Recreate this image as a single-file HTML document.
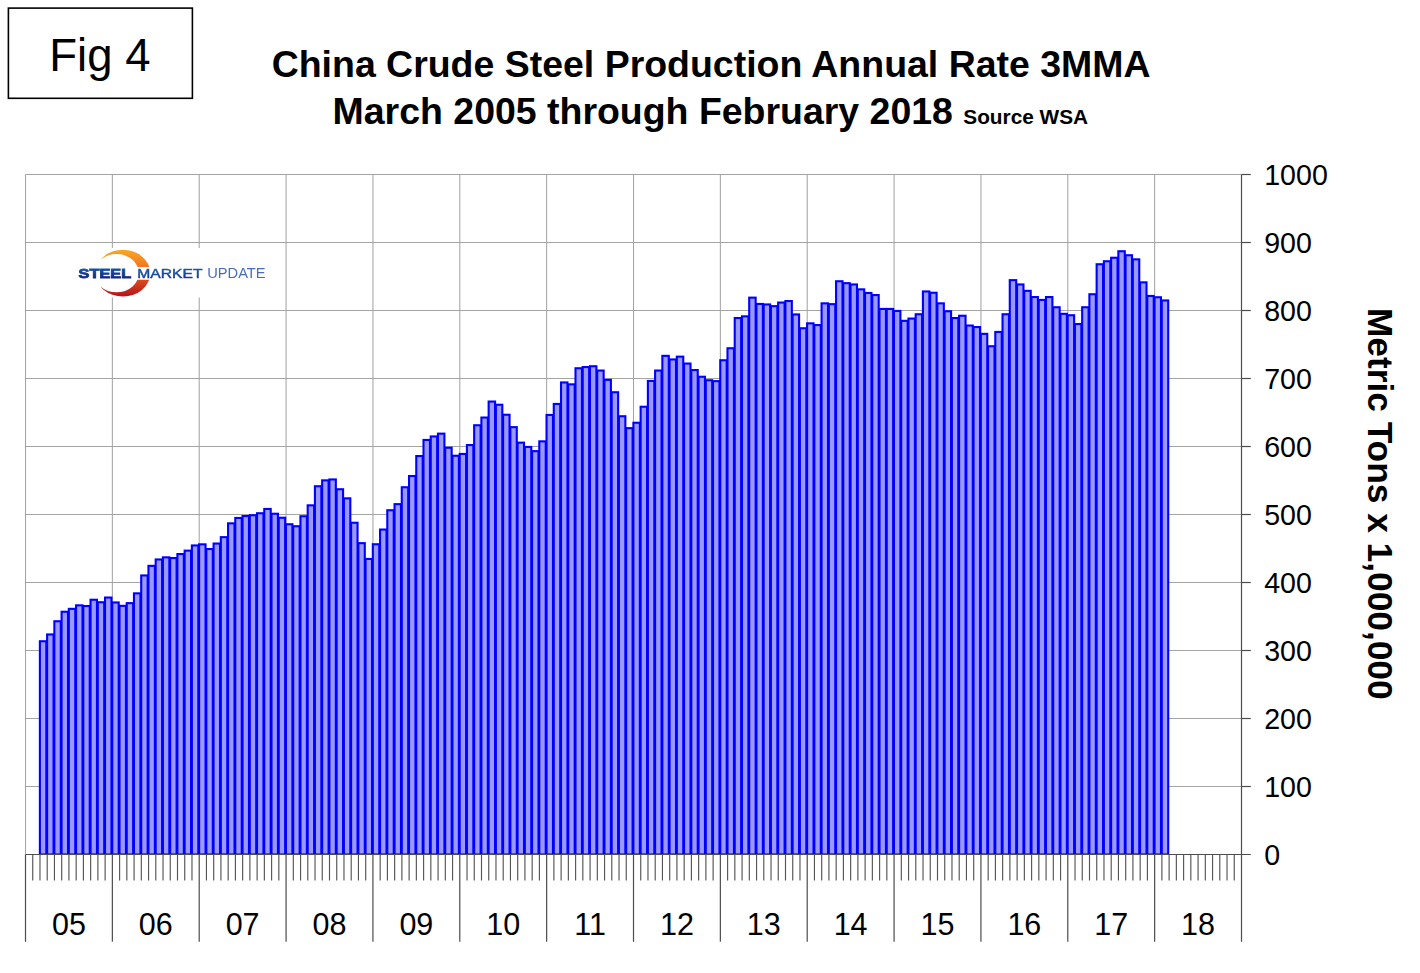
<!DOCTYPE html>
<html><head><meta charset="utf-8"><title>Fig 4</title>
<style>
html,body{margin:0;padding:0;background:#fff;}
body{width:1420px;height:973px;overflow:hidden;position:relative;font-family:"Liberation Sans",sans-serif;}
svg{position:absolute;left:0;top:0;display:block;}
text{font-family:"Liberation Sans",sans-serif;fill:#000;}
</style></head><body>
<svg width="1420" height="973" viewBox="0 0 1420 973">
<defs>
<linearGradient id="cg" x1="0" y1="0" x2="0" y2="1"><stop offset="0" stop-color="#f9a825"/><stop offset="0.45" stop-color="#ef6a22"/><stop offset="1" stop-color="#b5121b"/></linearGradient>
</defs>
<rect x="0" y="0" width="1420" height="973" fill="#ffffff"/>
<g stroke="#a4a4a4" stroke-width="1.05" fill="none">
<line x1="25.50" y1="786.50" x2="1241.50" y2="786.50"/>
<line x1="25.50" y1="718.50" x2="1241.50" y2="718.50"/>
<line x1="25.50" y1="650.50" x2="1241.50" y2="650.50"/>
<line x1="25.50" y1="582.50" x2="1241.50" y2="582.50"/>
<line x1="25.50" y1="514.50" x2="1241.50" y2="514.50"/>
<line x1="25.50" y1="446.50" x2="1241.50" y2="446.50"/>
<line x1="25.50" y1="378.50" x2="1241.50" y2="378.50"/>
<line x1="25.50" y1="310.50" x2="1241.50" y2="310.50"/>
<line x1="25.50" y1="242.50" x2="1241.50" y2="242.50"/>
<line x1="25.50" y1="174.50" x2="1241.50" y2="174.50"/>
<line x1="25.50" y1="174.50" x2="25.50" y2="854.50"/>
<line x1="112.36" y1="174.50" x2="112.36" y2="854.50"/>
<line x1="199.21" y1="174.50" x2="199.21" y2="854.50"/>
<line x1="286.07" y1="174.50" x2="286.07" y2="854.50"/>
<line x1="372.93" y1="174.50" x2="372.93" y2="854.50"/>
<line x1="459.79" y1="174.50" x2="459.79" y2="854.50"/>
<line x1="546.64" y1="174.50" x2="546.64" y2="854.50"/>
<line x1="633.50" y1="174.50" x2="633.50" y2="854.50"/>
<line x1="720.36" y1="174.50" x2="720.36" y2="854.50"/>
<line x1="807.21" y1="174.50" x2="807.21" y2="854.50"/>
<line x1="894.07" y1="174.50" x2="894.07" y2="854.50"/>
<line x1="980.93" y1="174.50" x2="980.93" y2="854.50"/>
<line x1="1067.79" y1="174.50" x2="1067.79" y2="854.50"/>
<line x1="1154.64" y1="174.50" x2="1154.64" y2="854.50"/>
</g>
<rect x="70" y="248" width="212" height="49.4" fill="#ffffff"/>
<defs><clipPath id="lc"><rect x="100" y="248" width="53" height="19"/><rect x="100" y="279.7" width="53" height="19"/></clipPath>
<linearGradient id="tg" x1="0" y1="0" x2="0" y2="1"><stop offset="0" stop-color="#0b62b5"/><stop offset="0.55" stop-color="#173a8e"/><stop offset="1" stop-color="#1a1f78"/></linearGradient>
<linearGradient id="tg2" x1="0" y1="0" x2="0" y2="1"><stop offset="0" stop-color="#1565b5"/><stop offset="1" stop-color="#1b2f85"/></linearGradient>
<filter id="lb" x="-10%" y="-10%" width="120%" height="120%"><feGaussianBlur stdDeviation="0.35"/></filter></defs>
<g filter="url(#lb)">
<g clip-path="url(#lc)"><path fill="url(#cg)" fill-rule="evenodd" d="M95.5,273.15 a27.4,23.35 0 1,0 54.8,0 a27.4,23.35 0 1,0 -54.8,0 Z M94.2,273.15 a22.3,19.2 0 1,0 44.6,0 a22.3,19.2 0 1,0 -44.6,0 Z"/></g>
<rect x="70" y="248" width="31" height="49.4" fill="#ffffff"/>
<text x="78.6" y="277.7" font-size="13.1" font-weight="bold" textLength="52.6" lengthAdjust="spacingAndGlyphs" style="fill:url(#tg);stroke:url(#tg);stroke-width:0.8">STEEL</text>
<text x="137.3" y="277.8" font-size="13.3" textLength="65.2" lengthAdjust="spacingAndGlyphs" style="fill:url(#tg2);stroke:url(#tg2);stroke-width:0.45">MARKET</text>
<text x="207.2" y="278.1" font-size="14.0" textLength="58.4" lengthAdjust="spacingAndGlyphs" style="fill:#4a6db8">UPDATE</text>
</g>
<clipPath id="bc"><rect x="0" y="0" width="1420" height="854.3"/></clipPath>
<g clip-path="url(#bc)" fill="#9999ff" stroke="#0000ff" stroke-width="2.1" stroke-linejoin="miter">
<rect x="39.88" y="641.25" width="6.44" height="213.25"/>
<rect x="47.11" y="634.45" width="6.44" height="220.05"/>
<rect x="54.35" y="621.25" width="6.44" height="233.25"/>
<rect x="61.59" y="611.75" width="6.44" height="242.75"/>
<rect x="68.83" y="608.85" width="6.44" height="245.65"/>
<rect x="76.07" y="605.35" width="6.44" height="249.15"/>
<rect x="83.30" y="606.05" width="6.44" height="248.45"/>
<rect x="90.54" y="599.75" width="6.44" height="254.75"/>
<rect x="97.78" y="602.25" width="6.44" height="252.25"/>
<rect x="105.02" y="597.55" width="6.44" height="256.95"/>
<rect x="112.26" y="602.45" width="6.44" height="252.05"/>
<rect x="119.50" y="605.85" width="6.44" height="248.65"/>
<rect x="126.73" y="603.15" width="6.44" height="251.35"/>
<rect x="133.97" y="593.35" width="6.44" height="261.15"/>
<rect x="141.21" y="575.45" width="6.44" height="279.05"/>
<rect x="148.45" y="565.85" width="6.44" height="288.65"/>
<rect x="155.69" y="559.45" width="6.44" height="295.05"/>
<rect x="162.92" y="557.35" width="6.44" height="297.15"/>
<rect x="170.16" y="558.05" width="6.44" height="296.45"/>
<rect x="177.40" y="554.05" width="6.44" height="300.45"/>
<rect x="184.64" y="550.65" width="6.44" height="303.85"/>
<rect x="191.88" y="545.45" width="6.44" height="309.05"/>
<rect x="199.11" y="544.35" width="6.44" height="310.15"/>
<rect x="206.35" y="549.05" width="6.44" height="305.45"/>
<rect x="213.59" y="543.55" width="6.44" height="310.95"/>
<rect x="220.83" y="537.15" width="6.44" height="317.35"/>
<rect x="228.07" y="523.35" width="6.44" height="331.15"/>
<rect x="235.30" y="517.95" width="6.44" height="336.55"/>
<rect x="242.54" y="516.05" width="6.44" height="338.45"/>
<rect x="249.78" y="515.25" width="6.44" height="339.25"/>
<rect x="257.02" y="513.25" width="6.44" height="341.25"/>
<rect x="264.26" y="508.95" width="6.44" height="345.55"/>
<rect x="271.50" y="513.75" width="6.44" height="340.75"/>
<rect x="278.73" y="517.75" width="6.44" height="336.75"/>
<rect x="285.97" y="524.25" width="6.44" height="330.25"/>
<rect x="293.21" y="526.25" width="6.44" height="328.25"/>
<rect x="300.45" y="516.25" width="6.44" height="338.25"/>
<rect x="307.69" y="505.35" width="6.44" height="349.15"/>
<rect x="314.92" y="486.25" width="6.44" height="368.25"/>
<rect x="322.16" y="480.35" width="6.44" height="374.15"/>
<rect x="329.40" y="479.45" width="6.44" height="375.05"/>
<rect x="336.64" y="489.25" width="6.44" height="365.25"/>
<rect x="343.88" y="498.35" width="6.44" height="356.15"/>
<rect x="351.11" y="522.75" width="6.44" height="331.75"/>
<rect x="358.35" y="543.15" width="6.44" height="311.35"/>
<rect x="365.59" y="558.95" width="6.44" height="295.55"/>
<rect x="372.83" y="544.25" width="6.44" height="310.25"/>
<rect x="380.07" y="529.55" width="6.44" height="324.95"/>
<rect x="387.30" y="510.25" width="6.44" height="344.25"/>
<rect x="394.54" y="504.15" width="6.44" height="350.35"/>
<rect x="401.78" y="487.25" width="6.44" height="367.25"/>
<rect x="409.02" y="476.05" width="6.44" height="378.45"/>
<rect x="416.26" y="456.05" width="6.44" height="398.45"/>
<rect x="423.50" y="439.95" width="6.44" height="414.55"/>
<rect x="430.73" y="436.45" width="6.44" height="418.05"/>
<rect x="437.97" y="433.65" width="6.44" height="420.85"/>
<rect x="445.21" y="447.75" width="6.44" height="406.75"/>
<rect x="452.45" y="455.75" width="6.44" height="398.75"/>
<rect x="459.69" y="453.95" width="6.44" height="400.55"/>
<rect x="466.92" y="445.05" width="6.44" height="409.45"/>
<rect x="474.16" y="425.25" width="6.44" height="429.25"/>
<rect x="481.40" y="417.55" width="6.44" height="436.95"/>
<rect x="488.64" y="401.55" width="6.44" height="452.95"/>
<rect x="495.88" y="404.75" width="6.44" height="449.75"/>
<rect x="503.11" y="414.75" width="6.44" height="439.75"/>
<rect x="510.35" y="427.15" width="6.44" height="427.35"/>
<rect x="517.59" y="442.65" width="6.44" height="411.85"/>
<rect x="524.83" y="446.95" width="6.44" height="407.55"/>
<rect x="532.07" y="451.15" width="6.44" height="403.35"/>
<rect x="539.30" y="441.35" width="6.44" height="413.15"/>
<rect x="546.54" y="414.95" width="6.44" height="439.55"/>
<rect x="553.78" y="403.95" width="6.44" height="450.55"/>
<rect x="561.02" y="382.45" width="6.44" height="472.05"/>
<rect x="568.26" y="384.35" width="6.44" height="470.15"/>
<rect x="575.50" y="368.25" width="6.44" height="486.25"/>
<rect x="582.73" y="367.05" width="6.44" height="487.45"/>
<rect x="589.97" y="366.25" width="6.44" height="488.25"/>
<rect x="597.21" y="370.55" width="6.44" height="483.95"/>
<rect x="604.45" y="379.85" width="6.44" height="474.65"/>
<rect x="611.69" y="392.25" width="6.44" height="462.25"/>
<rect x="618.92" y="416.25" width="6.44" height="438.25"/>
<rect x="626.16" y="428.15" width="6.44" height="426.35"/>
<rect x="633.40" y="422.75" width="6.44" height="431.75"/>
<rect x="640.64" y="406.75" width="6.44" height="447.75"/>
<rect x="647.88" y="380.95" width="6.44" height="473.55"/>
<rect x="655.11" y="370.55" width="6.44" height="483.95"/>
<rect x="662.35" y="355.85" width="6.44" height="498.65"/>
<rect x="669.59" y="359.45" width="6.44" height="495.05"/>
<rect x="676.83" y="356.65" width="6.44" height="497.85"/>
<rect x="684.07" y="363.55" width="6.44" height="490.95"/>
<rect x="691.30" y="370.05" width="6.44" height="484.45"/>
<rect x="698.54" y="376.75" width="6.44" height="477.75"/>
<rect x="705.78" y="380.25" width="6.44" height="474.25"/>
<rect x="713.02" y="381.15" width="6.44" height="473.35"/>
<rect x="720.26" y="360.25" width="6.44" height="494.25"/>
<rect x="727.50" y="348.25" width="6.44" height="506.25"/>
<rect x="734.73" y="318.05" width="6.44" height="536.45"/>
<rect x="741.97" y="316.35" width="6.44" height="538.15"/>
<rect x="749.21" y="297.65" width="6.44" height="556.85"/>
<rect x="756.45" y="303.95" width="6.44" height="550.55"/>
<rect x="763.69" y="304.45" width="6.44" height="550.05"/>
<rect x="770.92" y="306.15" width="6.44" height="548.35"/>
<rect x="778.16" y="302.55" width="6.44" height="551.95"/>
<rect x="785.40" y="301.05" width="6.44" height="553.45"/>
<rect x="792.64" y="314.45" width="6.44" height="540.05"/>
<rect x="799.88" y="328.25" width="6.44" height="526.25"/>
<rect x="807.11" y="323.35" width="6.44" height="531.15"/>
<rect x="814.35" y="325.05" width="6.44" height="529.45"/>
<rect x="821.59" y="303.35" width="6.44" height="551.15"/>
<rect x="828.83" y="304.15" width="6.44" height="550.35"/>
<rect x="836.07" y="281.25" width="6.44" height="573.25"/>
<rect x="843.30" y="283.15" width="6.44" height="571.35"/>
<rect x="850.54" y="284.45" width="6.44" height="570.05"/>
<rect x="857.78" y="289.35" width="6.44" height="565.15"/>
<rect x="865.02" y="292.95" width="6.44" height="561.55"/>
<rect x="872.26" y="295.05" width="6.44" height="559.45"/>
<rect x="879.50" y="308.95" width="6.44" height="545.55"/>
<rect x="886.73" y="308.95" width="6.44" height="545.55"/>
<rect x="893.97" y="310.95" width="6.44" height="543.55"/>
<rect x="901.21" y="320.85" width="6.44" height="533.65"/>
<rect x="908.45" y="318.55" width="6.44" height="535.95"/>
<rect x="915.69" y="314.25" width="6.44" height="540.25"/>
<rect x="922.92" y="291.45" width="6.44" height="563.05"/>
<rect x="930.16" y="292.75" width="6.44" height="561.75"/>
<rect x="937.40" y="303.35" width="6.44" height="551.15"/>
<rect x="944.64" y="311.25" width="6.44" height="543.25"/>
<rect x="951.88" y="318.05" width="6.44" height="536.45"/>
<rect x="959.11" y="315.75" width="6.44" height="538.75"/>
<rect x="966.35" y="325.55" width="6.44" height="528.95"/>
<rect x="973.59" y="327.05" width="6.44" height="527.45"/>
<rect x="980.83" y="333.85" width="6.44" height="520.65"/>
<rect x="988.07" y="346.25" width="6.44" height="508.25"/>
<rect x="995.30" y="331.95" width="6.44" height="522.55"/>
<rect x="1002.54" y="314.25" width="6.44" height="540.25"/>
<rect x="1009.78" y="280.15" width="6.44" height="574.35"/>
<rect x="1017.02" y="284.45" width="6.44" height="570.05"/>
<rect x="1024.26" y="290.85" width="6.44" height="563.65"/>
<rect x="1031.50" y="297.05" width="6.44" height="557.45"/>
<rect x="1038.73" y="299.95" width="6.44" height="554.55"/>
<rect x="1045.97" y="297.05" width="6.44" height="557.45"/>
<rect x="1053.21" y="307.25" width="6.44" height="547.25"/>
<rect x="1060.45" y="313.85" width="6.44" height="540.65"/>
<rect x="1067.69" y="315.25" width="6.44" height="539.25"/>
<rect x="1074.92" y="324.05" width="6.44" height="530.45"/>
<rect x="1082.16" y="307.25" width="6.44" height="547.25"/>
<rect x="1089.40" y="294.25" width="6.44" height="560.25"/>
<rect x="1096.64" y="264.25" width="6.44" height="590.25"/>
<rect x="1103.88" y="261.25" width="6.44" height="593.25"/>
<rect x="1111.11" y="257.75" width="6.44" height="596.75"/>
<rect x="1118.35" y="251.25" width="6.44" height="603.25"/>
<rect x="1125.59" y="255.25" width="6.44" height="599.25"/>
<rect x="1132.83" y="259.35" width="6.44" height="595.15"/>
<rect x="1140.07" y="282.35" width="6.44" height="572.15"/>
<rect x="1147.30" y="295.95" width="6.44" height="558.55"/>
<rect x="1154.54" y="297.25" width="6.44" height="557.25"/>
<rect x="1161.78" y="300.45" width="6.44" height="554.05"/>
</g>
<g stroke="#4d4d4d" stroke-width="1.2" fill="none">
<line x1="25.50" y1="854.50" x2="1250.80" y2="854.50"/>
<line x1="1241.50" y1="174.50" x2="1241.50" y2="941.80"/>
<line x1="1241.50" y1="786.50" x2="1250.80" y2="786.50"/>
<line x1="1241.50" y1="718.50" x2="1250.80" y2="718.50"/>
<line x1="1241.50" y1="650.50" x2="1250.80" y2="650.50"/>
<line x1="1241.50" y1="582.50" x2="1250.80" y2="582.50"/>
<line x1="1241.50" y1="514.50" x2="1250.80" y2="514.50"/>
<line x1="1241.50" y1="446.50" x2="1250.80" y2="446.50"/>
<line x1="1241.50" y1="378.50" x2="1250.80" y2="378.50"/>
<line x1="1241.50" y1="310.50" x2="1250.80" y2="310.50"/>
<line x1="1241.50" y1="242.50" x2="1250.80" y2="242.50"/>
<line x1="1241.50" y1="174.50" x2="1250.80" y2="174.50"/>
<line x1="25.50" y1="854.50" x2="25.50" y2="941.80"/>
<line x1="112.36" y1="854.50" x2="112.36" y2="941.80"/>
<line x1="199.21" y1="854.50" x2="199.21" y2="941.80"/>
<line x1="286.07" y1="854.50" x2="286.07" y2="941.80"/>
<line x1="372.93" y1="854.50" x2="372.93" y2="941.80"/>
<line x1="459.79" y1="854.50" x2="459.79" y2="941.80"/>
<line x1="546.64" y1="854.50" x2="546.64" y2="941.80"/>
<line x1="633.50" y1="854.50" x2="633.50" y2="941.80"/>
<line x1="720.36" y1="854.50" x2="720.36" y2="941.80"/>
<line x1="807.21" y1="854.50" x2="807.21" y2="941.80"/>
<line x1="894.07" y1="854.50" x2="894.07" y2="941.80"/>
<line x1="980.93" y1="854.50" x2="980.93" y2="941.80"/>
<line x1="1067.79" y1="854.50" x2="1067.79" y2="941.80"/>
<line x1="1154.64" y1="854.50" x2="1154.64" y2="941.80"/>
</g>
<g stroke="#555555" stroke-width="1.15" fill="none">
<line x1="32.74" y1="854.50" x2="32.74" y2="880.50"/>
<line x1="39.98" y1="854.50" x2="39.98" y2="880.50"/>
<line x1="47.21" y1="854.50" x2="47.21" y2="880.50"/>
<line x1="54.45" y1="854.50" x2="54.45" y2="880.50"/>
<line x1="61.69" y1="854.50" x2="61.69" y2="880.50"/>
<line x1="68.93" y1="854.50" x2="68.93" y2="880.50"/>
<line x1="76.17" y1="854.50" x2="76.17" y2="880.50"/>
<line x1="83.40" y1="854.50" x2="83.40" y2="880.50"/>
<line x1="90.64" y1="854.50" x2="90.64" y2="880.50"/>
<line x1="97.88" y1="854.50" x2="97.88" y2="880.50"/>
<line x1="105.12" y1="854.50" x2="105.12" y2="880.50"/>
<line x1="119.60" y1="854.50" x2="119.60" y2="880.50"/>
<line x1="126.83" y1="854.50" x2="126.83" y2="880.50"/>
<line x1="134.07" y1="854.50" x2="134.07" y2="880.50"/>
<line x1="141.31" y1="854.50" x2="141.31" y2="880.50"/>
<line x1="148.55" y1="854.50" x2="148.55" y2="880.50"/>
<line x1="155.79" y1="854.50" x2="155.79" y2="880.50"/>
<line x1="163.02" y1="854.50" x2="163.02" y2="880.50"/>
<line x1="170.26" y1="854.50" x2="170.26" y2="880.50"/>
<line x1="177.50" y1="854.50" x2="177.50" y2="880.50"/>
<line x1="184.74" y1="854.50" x2="184.74" y2="880.50"/>
<line x1="191.98" y1="854.50" x2="191.98" y2="880.50"/>
<line x1="206.45" y1="854.50" x2="206.45" y2="880.50"/>
<line x1="213.69" y1="854.50" x2="213.69" y2="880.50"/>
<line x1="220.93" y1="854.50" x2="220.93" y2="880.50"/>
<line x1="228.17" y1="854.50" x2="228.17" y2="880.50"/>
<line x1="235.40" y1="854.50" x2="235.40" y2="880.50"/>
<line x1="242.64" y1="854.50" x2="242.64" y2="880.50"/>
<line x1="249.88" y1="854.50" x2="249.88" y2="880.50"/>
<line x1="257.12" y1="854.50" x2="257.12" y2="880.50"/>
<line x1="264.36" y1="854.50" x2="264.36" y2="880.50"/>
<line x1="271.60" y1="854.50" x2="271.60" y2="880.50"/>
<line x1="278.83" y1="854.50" x2="278.83" y2="880.50"/>
<line x1="293.31" y1="854.50" x2="293.31" y2="880.50"/>
<line x1="300.55" y1="854.50" x2="300.55" y2="880.50"/>
<line x1="307.79" y1="854.50" x2="307.79" y2="880.50"/>
<line x1="315.02" y1="854.50" x2="315.02" y2="880.50"/>
<line x1="322.26" y1="854.50" x2="322.26" y2="880.50"/>
<line x1="329.50" y1="854.50" x2="329.50" y2="880.50"/>
<line x1="336.74" y1="854.50" x2="336.74" y2="880.50"/>
<line x1="343.98" y1="854.50" x2="343.98" y2="880.50"/>
<line x1="351.21" y1="854.50" x2="351.21" y2="880.50"/>
<line x1="358.45" y1="854.50" x2="358.45" y2="880.50"/>
<line x1="365.69" y1="854.50" x2="365.69" y2="880.50"/>
<line x1="380.17" y1="854.50" x2="380.17" y2="880.50"/>
<line x1="387.40" y1="854.50" x2="387.40" y2="880.50"/>
<line x1="394.64" y1="854.50" x2="394.64" y2="880.50"/>
<line x1="401.88" y1="854.50" x2="401.88" y2="880.50"/>
<line x1="409.12" y1="854.50" x2="409.12" y2="880.50"/>
<line x1="416.36" y1="854.50" x2="416.36" y2="880.50"/>
<line x1="423.60" y1="854.50" x2="423.60" y2="880.50"/>
<line x1="430.83" y1="854.50" x2="430.83" y2="880.50"/>
<line x1="438.07" y1="854.50" x2="438.07" y2="880.50"/>
<line x1="445.31" y1="854.50" x2="445.31" y2="880.50"/>
<line x1="452.55" y1="854.50" x2="452.55" y2="880.50"/>
<line x1="467.02" y1="854.50" x2="467.02" y2="880.50"/>
<line x1="474.26" y1="854.50" x2="474.26" y2="880.50"/>
<line x1="481.50" y1="854.50" x2="481.50" y2="880.50"/>
<line x1="488.74" y1="854.50" x2="488.74" y2="880.50"/>
<line x1="495.98" y1="854.50" x2="495.98" y2="880.50"/>
<line x1="503.21" y1="854.50" x2="503.21" y2="880.50"/>
<line x1="510.45" y1="854.50" x2="510.45" y2="880.50"/>
<line x1="517.69" y1="854.50" x2="517.69" y2="880.50"/>
<line x1="524.93" y1="854.50" x2="524.93" y2="880.50"/>
<line x1="532.17" y1="854.50" x2="532.17" y2="880.50"/>
<line x1="539.40" y1="854.50" x2="539.40" y2="880.50"/>
<line x1="553.88" y1="854.50" x2="553.88" y2="880.50"/>
<line x1="561.12" y1="854.50" x2="561.12" y2="880.50"/>
<line x1="568.36" y1="854.50" x2="568.36" y2="880.50"/>
<line x1="575.60" y1="854.50" x2="575.60" y2="880.50"/>
<line x1="582.83" y1="854.50" x2="582.83" y2="880.50"/>
<line x1="590.07" y1="854.50" x2="590.07" y2="880.50"/>
<line x1="597.31" y1="854.50" x2="597.31" y2="880.50"/>
<line x1="604.55" y1="854.50" x2="604.55" y2="880.50"/>
<line x1="611.79" y1="854.50" x2="611.79" y2="880.50"/>
<line x1="619.02" y1="854.50" x2="619.02" y2="880.50"/>
<line x1="626.26" y1="854.50" x2="626.26" y2="880.50"/>
<line x1="640.74" y1="854.50" x2="640.74" y2="880.50"/>
<line x1="647.98" y1="854.50" x2="647.98" y2="880.50"/>
<line x1="655.21" y1="854.50" x2="655.21" y2="880.50"/>
<line x1="662.45" y1="854.50" x2="662.45" y2="880.50"/>
<line x1="669.69" y1="854.50" x2="669.69" y2="880.50"/>
<line x1="676.93" y1="854.50" x2="676.93" y2="880.50"/>
<line x1="684.17" y1="854.50" x2="684.17" y2="880.50"/>
<line x1="691.40" y1="854.50" x2="691.40" y2="880.50"/>
<line x1="698.64" y1="854.50" x2="698.64" y2="880.50"/>
<line x1="705.88" y1="854.50" x2="705.88" y2="880.50"/>
<line x1="713.12" y1="854.50" x2="713.12" y2="880.50"/>
<line x1="727.60" y1="854.50" x2="727.60" y2="880.50"/>
<line x1="734.83" y1="854.50" x2="734.83" y2="880.50"/>
<line x1="742.07" y1="854.50" x2="742.07" y2="880.50"/>
<line x1="749.31" y1="854.50" x2="749.31" y2="880.50"/>
<line x1="756.55" y1="854.50" x2="756.55" y2="880.50"/>
<line x1="763.79" y1="854.50" x2="763.79" y2="880.50"/>
<line x1="771.02" y1="854.50" x2="771.02" y2="880.50"/>
<line x1="778.26" y1="854.50" x2="778.26" y2="880.50"/>
<line x1="785.50" y1="854.50" x2="785.50" y2="880.50"/>
<line x1="792.74" y1="854.50" x2="792.74" y2="880.50"/>
<line x1="799.98" y1="854.50" x2="799.98" y2="880.50"/>
<line x1="814.45" y1="854.50" x2="814.45" y2="880.50"/>
<line x1="821.69" y1="854.50" x2="821.69" y2="880.50"/>
<line x1="828.93" y1="854.50" x2="828.93" y2="880.50"/>
<line x1="836.17" y1="854.50" x2="836.17" y2="880.50"/>
<line x1="843.40" y1="854.50" x2="843.40" y2="880.50"/>
<line x1="850.64" y1="854.50" x2="850.64" y2="880.50"/>
<line x1="857.88" y1="854.50" x2="857.88" y2="880.50"/>
<line x1="865.12" y1="854.50" x2="865.12" y2="880.50"/>
<line x1="872.36" y1="854.50" x2="872.36" y2="880.50"/>
<line x1="879.60" y1="854.50" x2="879.60" y2="880.50"/>
<line x1="886.83" y1="854.50" x2="886.83" y2="880.50"/>
<line x1="901.31" y1="854.50" x2="901.31" y2="880.50"/>
<line x1="908.55" y1="854.50" x2="908.55" y2="880.50"/>
<line x1="915.79" y1="854.50" x2="915.79" y2="880.50"/>
<line x1="923.02" y1="854.50" x2="923.02" y2="880.50"/>
<line x1="930.26" y1="854.50" x2="930.26" y2="880.50"/>
<line x1="937.50" y1="854.50" x2="937.50" y2="880.50"/>
<line x1="944.74" y1="854.50" x2="944.74" y2="880.50"/>
<line x1="951.98" y1="854.50" x2="951.98" y2="880.50"/>
<line x1="959.21" y1="854.50" x2="959.21" y2="880.50"/>
<line x1="966.45" y1="854.50" x2="966.45" y2="880.50"/>
<line x1="973.69" y1="854.50" x2="973.69" y2="880.50"/>
<line x1="988.17" y1="854.50" x2="988.17" y2="880.50"/>
<line x1="995.40" y1="854.50" x2="995.40" y2="880.50"/>
<line x1="1002.64" y1="854.50" x2="1002.64" y2="880.50"/>
<line x1="1009.88" y1="854.50" x2="1009.88" y2="880.50"/>
<line x1="1017.12" y1="854.50" x2="1017.12" y2="880.50"/>
<line x1="1024.36" y1="854.50" x2="1024.36" y2="880.50"/>
<line x1="1031.60" y1="854.50" x2="1031.60" y2="880.50"/>
<line x1="1038.83" y1="854.50" x2="1038.83" y2="880.50"/>
<line x1="1046.07" y1="854.50" x2="1046.07" y2="880.50"/>
<line x1="1053.31" y1="854.50" x2="1053.31" y2="880.50"/>
<line x1="1060.55" y1="854.50" x2="1060.55" y2="880.50"/>
<line x1="1075.02" y1="854.50" x2="1075.02" y2="880.50"/>
<line x1="1082.26" y1="854.50" x2="1082.26" y2="880.50"/>
<line x1="1089.50" y1="854.50" x2="1089.50" y2="880.50"/>
<line x1="1096.74" y1="854.50" x2="1096.74" y2="880.50"/>
<line x1="1103.98" y1="854.50" x2="1103.98" y2="880.50"/>
<line x1="1111.21" y1="854.50" x2="1111.21" y2="880.50"/>
<line x1="1118.45" y1="854.50" x2="1118.45" y2="880.50"/>
<line x1="1125.69" y1="854.50" x2="1125.69" y2="880.50"/>
<line x1="1132.93" y1="854.50" x2="1132.93" y2="880.50"/>
<line x1="1140.17" y1="854.50" x2="1140.17" y2="880.50"/>
<line x1="1147.40" y1="854.50" x2="1147.40" y2="880.50"/>
<line x1="1161.88" y1="854.50" x2="1161.88" y2="880.50"/>
<line x1="1169.12" y1="854.50" x2="1169.12" y2="880.50"/>
<line x1="1176.36" y1="854.50" x2="1176.36" y2="880.50"/>
<line x1="1183.60" y1="854.50" x2="1183.60" y2="880.50"/>
<line x1="1190.83" y1="854.50" x2="1190.83" y2="880.50"/>
<line x1="1198.07" y1="854.50" x2="1198.07" y2="880.50"/>
<line x1="1205.31" y1="854.50" x2="1205.31" y2="880.50"/>
<line x1="1212.55" y1="854.50" x2="1212.55" y2="880.50"/>
<line x1="1219.79" y1="854.50" x2="1219.79" y2="880.50"/>
<line x1="1227.02" y1="854.50" x2="1227.02" y2="880.50"/>
<line x1="1234.26" y1="854.50" x2="1234.26" y2="880.50"/>
</g>
<g font-size="28.6" >
<text x="1264.2" y="865.10">0</text>
<text x="1264.2" y="797.10">100</text>
<text x="1264.2" y="729.10">200</text>
<text x="1264.2" y="661.10">300</text>
<text x="1264.2" y="593.10">400</text>
<text x="1264.2" y="525.10">500</text>
<text x="1264.2" y="457.10">600</text>
<text x="1264.2" y="389.10">700</text>
<text x="1264.2" y="321.10">800</text>
<text x="1264.2" y="253.10">900</text>
<text x="1264.2" y="185.10">1000</text>
</g>
<g font-size="30.5" text-anchor="middle">
<text x="68.93" y="934.6">05</text>
<text x="155.79" y="934.6">06</text>
<text x="242.64" y="934.6">07</text>
<text x="329.50" y="934.6">08</text>
<text x="416.36" y="934.6">09</text>
<text x="503.21" y="934.6">10</text>
<text x="590.07" y="934.6">11</text>
<text x="676.93" y="934.6">12</text>
<text x="763.79" y="934.6">13</text>
<text x="850.64" y="934.6">14</text>
<text x="937.50" y="934.6">15</text>
<text x="1024.36" y="934.6">16</text>
<text x="1111.21" y="934.6">17</text>
<text x="1198.07" y="934.6">18</text>
</g>
<text id="t1" x="711.1" y="76.9" font-size="37.46" font-weight="bold" text-anchor="middle">China Crude Steel Production Annual Rate 3MMA</text>
<text id="t2" x="332.6" y="124.2" font-size="37.46" font-weight="bold">March 2005 through February 2018 <tspan id="t3" font-size="20.8">Source WSA</tspan></text>
<rect x="8.4" y="8.1" width="184" height="90.2" fill="#fff" stroke="#000" stroke-width="1.6"/>
<text id="fig" x="49.3" y="70.8" font-size="45.5">Fig 4</text>
<text id="yl" transform="translate(1367.9,307.9) rotate(90)" font-size="35.3" font-weight="bold">Metric Tons x 1,000,000</text>
</svg>
</body></html>
